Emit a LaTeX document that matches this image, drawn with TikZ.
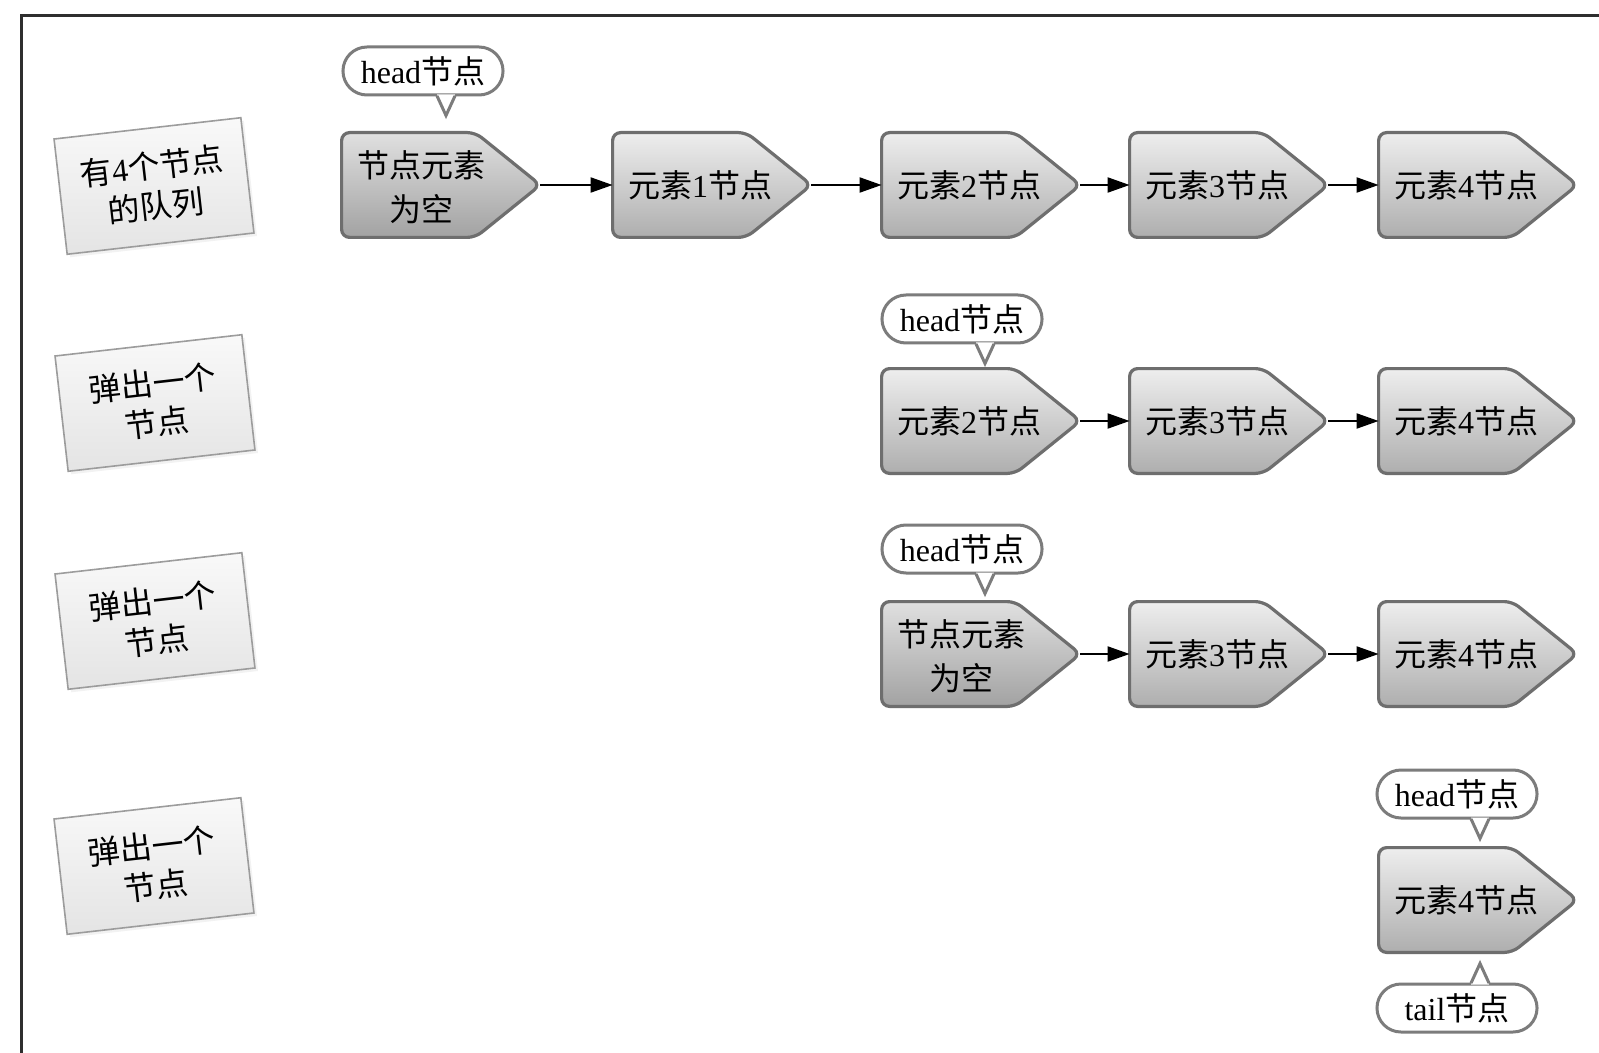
\documentclass[tikz,border=0pt]{standalone}
\usepackage{fontspec}
\setmainfont{Liberation Serif}
\newfontfamily\zh{Noto Sans CJK SC}
\usetikzlibrary{arrows.meta,shapes.misc,backgrounds,shadows}
\definecolor{framec}{HTML}{2E2E2E}
\definecolor{pborder}{HTML}{6E6E6E}
\definecolor{ptop}{HTML}{EEEEEE}
\definecolor{pbot}{HTML}{AEAEAE}
\definecolor{etop}{HTML}{E0E0E0}
\definecolor{ebot}{HTML}{A2A2A2}
\definecolor{cborder}{HTML}{7C7C7C}
\definecolor{ltop}{HTML}{F9F9F9}
\definecolor{lbot}{HTML}{E4E4E4}
\definecolor{lborder}{HTML}{9C9C9C}
\newcommand\zz[1]{{\zh #1}}
\newcommand\pentagon[2]{\path[#2] (#1.north west) -- ([xshift=-32.5pt]#1.north east) -- (#1.east) -- ([xshift=-32.5pt]#1.south east) -- (#1.south west) -- cycle;}
\newcommand\taildown[1]{%
  \fill[white] ([xshift=7pt,yshift=1pt]#1.south) -- ([xshift=11.5pt,yshift=-9.5pt]#1.south) -- ([xshift=16pt,yshift=1pt]#1.south) -- cycle;
  \draw[draw=cborder, line width=1.5pt] ([xshift=7pt,yshift=0.3pt]#1.south) -- ([xshift=11.5pt,yshift=-9.5pt]#1.south) -- ([xshift=16pt,yshift=0.3pt]#1.south);}
\newcommand\tailup[1]{%
  \fill[white] ([xshift=7pt,yshift=-1pt]#1.north) -- ([xshift=11.5pt,yshift=9.5pt]#1.north) -- ([xshift=16pt,yshift=-1pt]#1.north) -- cycle;
  \draw[draw=cborder, line width=1.5pt] ([xshift=7pt,yshift=-0.3pt]#1.north) -- ([xshift=11.5pt,yshift=9.5pt]#1.north) -- ([xshift=16pt,yshift=-0.3pt]#1.north);}
\begin{document}
\begin{tikzpicture}[x=0.5pt,y=-0.5pt,
  elem/.style={rectangle, minimum width=99pt, minimum height=52pt, inner xsep=7.5pt, inner ysep=0pt, text width=84pt, align=left, font=\fontsize{16}{22}\selectfont},
  pent/.style={draw=pborder, line width=1.6pt, rounded corners=4pt, top color=ptop, bottom color=pbot},
  pentempty/.style={pent, top color=etop, bottom color=ebot},
  bubble/.style={rounded rectangle, draw=cborder, line width=1.5pt, fill=white, minimum height=24pt, text width=63pt, align=center, inner xsep=6pt, inner ysep=0pt, font=\fontsize{16}{20}\selectfont},
  arr/.style={line width=1pt, -{Triangle[length=11pt,width=7.5pt]}},
  lab/.style={rectangle, rotate=6.5, draw=lborder, line width=0.8pt, top color=ltop, bottom color=lbot, minimum width=94pt, minimum height=58pt, align=center, font=\fontsize{16}{20}\selectfont, drop shadow={opacity=0.10, shadow xshift=1.5pt, shadow yshift=-1.5pt}},
]
\useasboundingbox (0,0) rectangle (1599,1053);

% frame
\draw[framec, line width=1.5pt] (21,1053) -- (21,16) -- (1599,16);

% left labels
\node[lab] (l1) at (154,186) {\zz{有}4\zz{个节点}\\\zz{的队列}};
\node[lab] (l2) at (155,403) {\zz{弹出一个}\\\zz{节点}};
\node[lab] (l3) at (155,621) {\zz{弹出一个}\\\zz{节点}};
\node[lab] (l4) at (154,866) {\zz{弹出一个}\\\zz{节点}};

% row 1
\node[elem] (a1) at (441,185) {\begin{tabular}{@{}c@{}}\rule{0pt}{21pt}\zz{节点元素}\\\zz{为空}\end{tabular}};
\node[elem] (a2) at (712,185) {\zz{元素}1\zz{节点}};
\node[elem] (a3) at (981,185) {\zz{元素}2\zz{节点}};
\node[elem] (a4) at (1229,185) {\zz{元素}3\zz{节点}};
\node[elem] (a5) at (1478,185) {\zz{元素}4\zz{节点}};
% row 2
\node[elem] (b3) at (981,421) {\zz{元素}2\zz{节点}};
\node[elem] (b4) at (1229,421) {\zz{元素}3\zz{节点}};
\node[elem] (b5) at (1478,421) {\zz{元素}4\zz{节点}};
% row 3
\node[elem] (c3) at (981,654) {\begin{tabular}{@{}c@{}}\rule{0pt}{21pt}\zz{节点元素}\\\zz{为空}\end{tabular}};
\node[elem] (c4) at (1229,654) {\zz{元素}3\zz{节点}};
\node[elem] (c5) at (1478,654) {\zz{元素}4\zz{节点}};
% row 4
\node[elem] (d5) at (1478,900) {\zz{元素}4\zz{节点}};

\begin{scope}[on background layer]
  \fill[white] (0,0) rectangle (1599,1053);
  \pentagon{a1}{pentempty}
  \pentagon{a2}{pent}
  \pentagon{a3}{pent}
  \pentagon{a4}{pent}
  \pentagon{a5}{pent}
  \pentagon{b3}{pent}
  \pentagon{b4}{pent}
  \pentagon{b5}{pent}
  \pentagon{c3}{pentempty}
  \pentagon{c4}{pent}
  \pentagon{c5}{pent}
  \pentagon{d5}{pent}
\end{scope}

% connectors
\draw[arr] (a1.east) -- (a2.west);
\draw[arr] (a2.east) -- (a3.west);
\draw[arr] (a3.east) -- (a4.west);
\draw[arr] (a4.east) -- (a5.west);
\draw[arr] (b3.east) -- (b4.west);
\draw[arr] (b4.east) -- (b5.west);
\draw[arr] (c3.east) -- (c4.west);
\draw[arr] (c4.east) -- (c5.west);

% callouts
\node[bubble] (h1) at (423,71) {head\zz{节点}};
\taildown{h1}
\node[bubble] (h2) at (962,319) {head\zz{节点}};
\taildown{h2}
\node[bubble] (h3) at (962,549) {head\zz{节点}};
\taildown{h3}
\node[bubble] (h4) at (1457,794) {head\zz{节点}};
\taildown{h4}
\node[bubble] (t4) at (1457,1008) {tail\zz{节点}};
\tailup{t4}
\end{tikzpicture}
\end{document}
